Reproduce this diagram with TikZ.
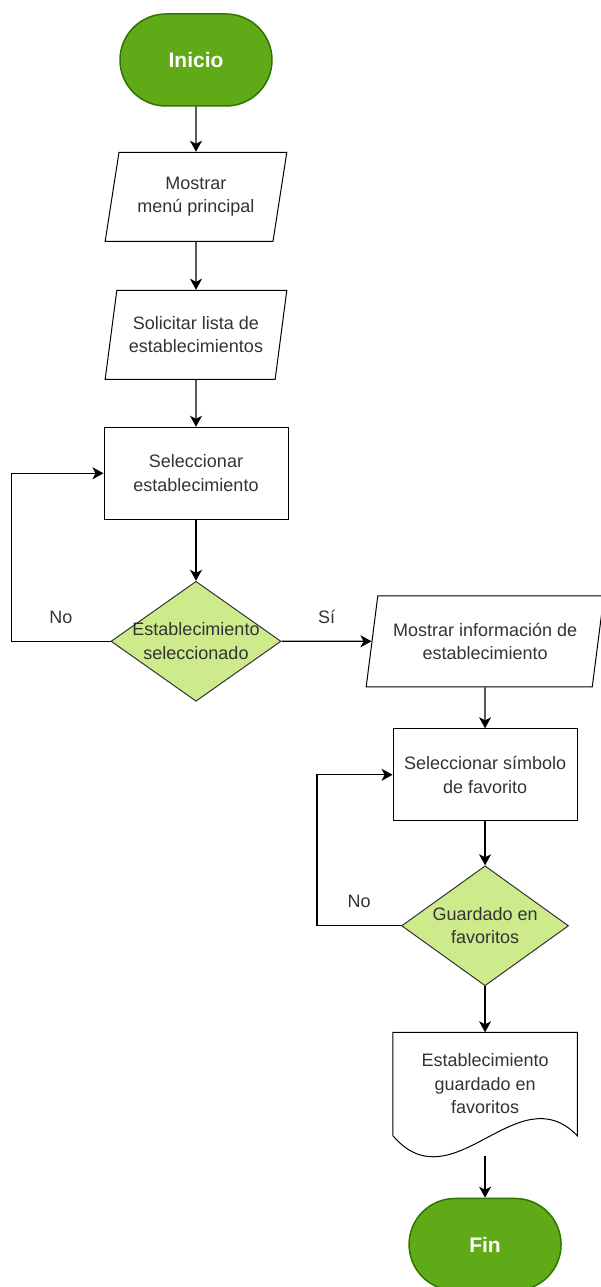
\documentclass[tikz,border=0pt]{standalone}
\usepackage{fontspec}
\setmainfont{Liberation Sans}
\usetikzlibrary{shapes.geometric,arrows.meta,positioning,calc}
\definecolor{verde}{HTML}{60A917}
\definecolor{verdeosc}{HTML}{2D7600}
\definecolor{verdeclaro}{HTML}{CDEB8B}
\definecolor{gris}{HTML}{333333}
\tikzstyle{flecha}=[-{Stealth[length=11pt,width=12pt,inset=3pt]}, line width=1.2pt]
\newcommand{\letra}{\fontsize{18}{23.5}\selectfont}

\begin{document}
\begin{tikzpicture}[x=1pt,y=1pt,
    extremo/.style={rectangle,rounded corners=46pt,draw=verdeosc,fill=verde,line width=1.5pt,
      minimum width=152pt,minimum height=92pt,text=white,font=\fontsize{21}{25}\selectfont\bfseries},
    datos/.style={trapezium,trapezium left angle=76,trapezium right angle=104,trapezium stretches=true,
      draw=black,line width=1pt,minimum height=89pt,inner sep=2pt,text=gris,align=center,font=\letra},
    proceso/.style={rectangle,draw=black,line width=1pt,minimum width=184pt,minimum height=92pt,
      text=gris,align=center,font=\letra},
    decision/.style={diamond,draw=gris,fill=verdeclaro,line width=1pt,minimum width=170pt,
      minimum height=120pt,inner sep=0pt},
    etiqueta/.style={text=gris,font=\letra,align=center}]
  \useasboundingbox (0,0) rectangle (600,-1287);

  % columna izquierda
  \node [extremo] (inicio) at (196,-60) {Inicio};
  \node [datos,minimum width=182pt,below=45pt of inicio] (menu) {Mostrar\\menú principal};
  \node [datos,minimum width=182pt,below=48pt of menu] (lista) {Solicitar lista de\\establecimientos};
  \node [proceso,below=47pt of lista] (selec) {Seleccionar\\establecimiento};
  \node [decision,below=61pt of selec,
    label={[etiqueta]center:Establecimiento\\seleccionado}] (cond1) {};

  % columna derecha
  \node [datos,minimum width=238pt,minimum height=91pt,right=90pt of cond1] (info) {Mostrar información de\\establecimiento};
  \node [proceso,below=41pt of info] (simbolo) {Seleccionar símbolo\\de favorito};
  \node [decision,minimum width=167pt,below=44pt of simbolo,
    label={[etiqueta]center:Guardado en\\favoritos}] (cond2) {};
  \node [rectangle,minimum width=184pt,minimum height=103pt,etiqueta,below=46pt of cond2] (doc)
    {Establecimiento\\guardado en\\favoritos};
  \draw [line width=1pt] (doc.south west) -- (doc.north west) -- (doc.north east) -- (doc.south east)
    .. controls +(-60,62) and +(60,-70) .. (doc.south west);
  \coordinate (docfin) at ($(doc.south)+(0,-20)$);
  \node [extremo,below=42pt of docfin] (fin) {Fin};

  % conexiones
  \draw [flecha] (inicio) -- (menu);
  \draw [flecha] (menu) -- (lista);
  \draw [flecha] (lista) -- (selec);
  \draw [flecha] (selec) -- (cond1);
  \draw [flecha] (cond1) -- node [etiqueta,midway,above=14pt] {Sí} (info);
  \draw [flecha] (cond1.west) -- ++(-99,0) node [etiqueta,midway,above=14pt] {No} |- (selec.west);
  \draw [flecha] (info) -- (simbolo);
  \draw [flecha] (simbolo) -- (cond2);
  \draw [flecha] (cond2.west) -- ++(-84,0) node [etiqueta,midway,above=14pt] {No} |- (simbolo.west);
  \draw [flecha] (cond2) -- (doc);
  \draw [flecha] (docfin) -- (fin);
\end{tikzpicture}
\end{document}
